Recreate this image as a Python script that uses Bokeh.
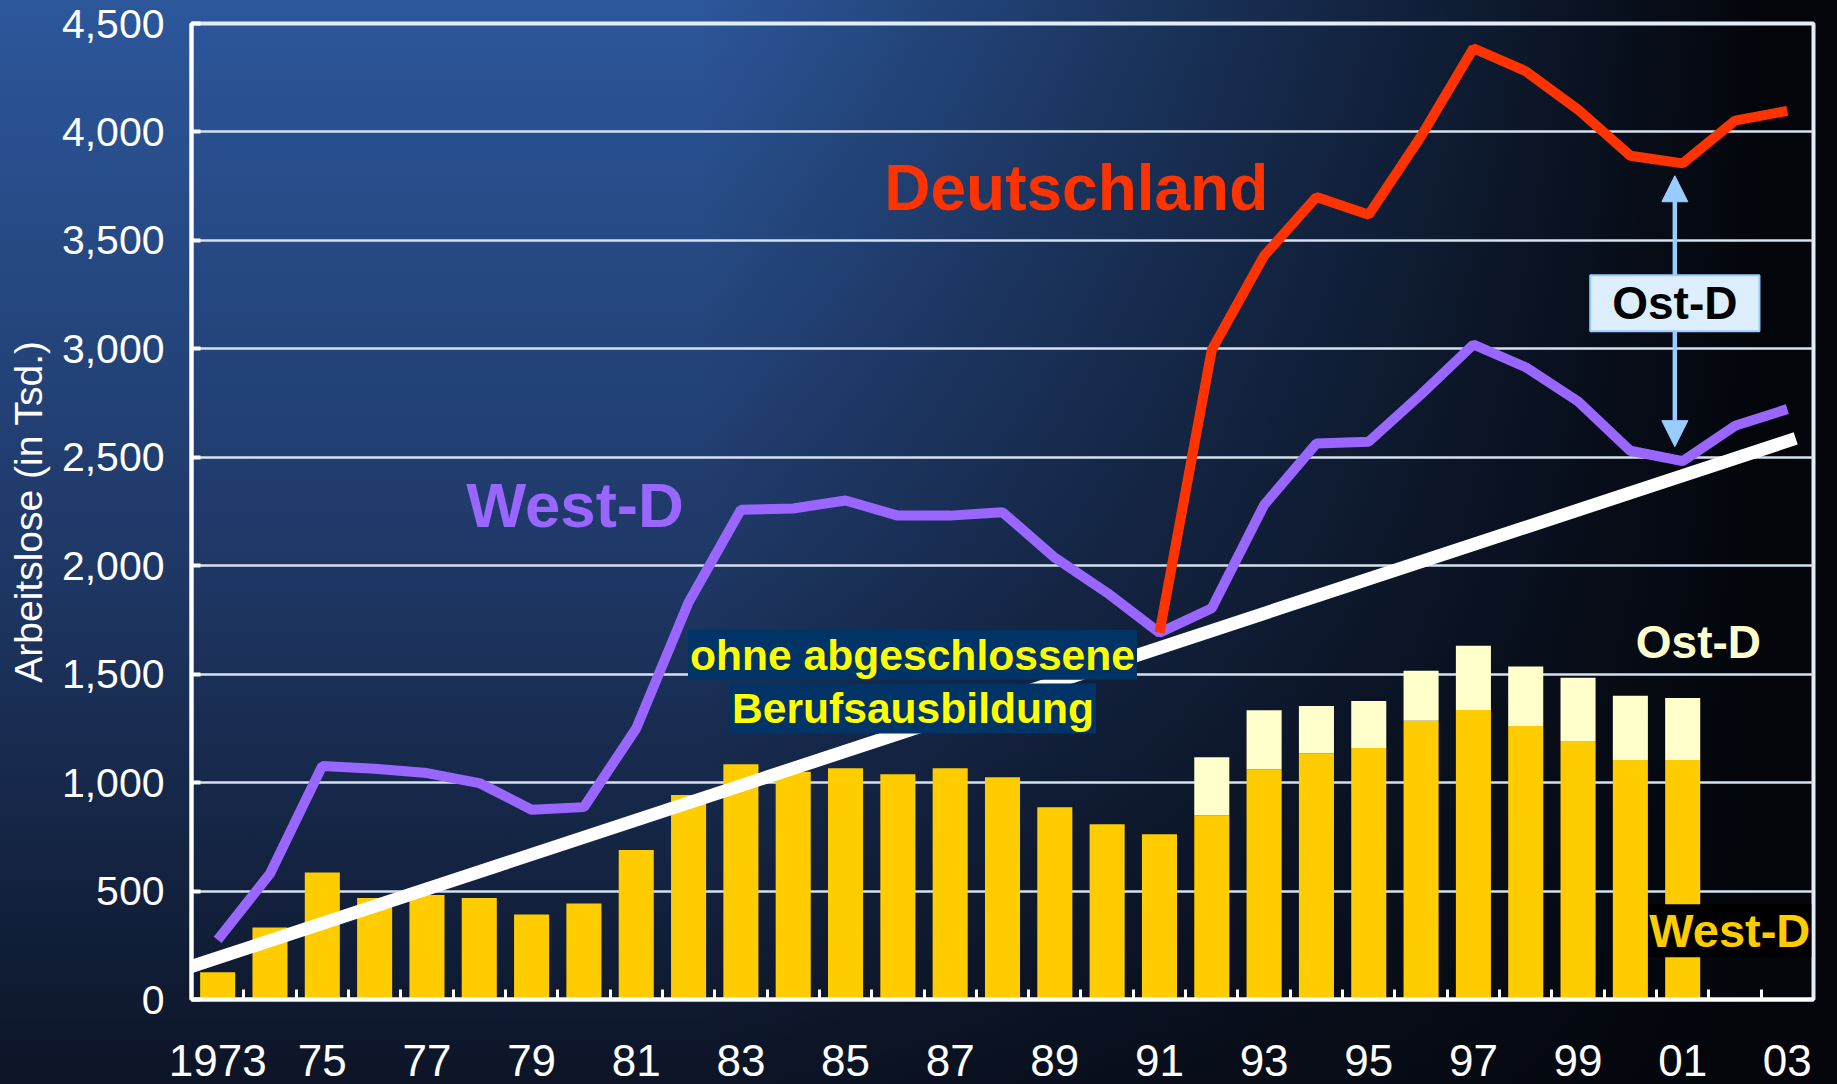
from bokeh.plotting import figure
from bokeh.models import (ColumnDataSource, Range1d, FixedTicker, NumeralTickFormatter,
                          Label, Arrow, NormalHead)
from bokeh.embed import file_html
from bokeh.resources import INLINE

# ---------------- data ----------------
years = list(range(1973, 2004))
bar_years = list(range(1973, 2002))
west_bars = [126, 332, 586, 468, 482, 468, 392, 443, 689, 943,
             1085, 1050, 1066, 1038, 1066, 1025, 886, 808, 762, 849,
             1062, 1135, 1160, 1285, 1335, 1261, 1192, 1104, 1104]
ost_bars = [0, 0, 0, 0, 0, 0, 0, 0, 0, 0,
            0, 0, 0, 0, 0, 0, 0, 0, 0, 268,
            272, 218, 216, 231, 296, 274, 291, 296, 286]
west_line = [275, 580, 1077, 1064, 1044, 998, 875, 887, 1250, 1831,
             2258, 2264, 2301, 2231, 2231, 2247, 2037, 1875, 1691, 1804,
             2280, 2564, 2572, 2790, 3020, 2915, 2758, 2530, 2482, 2645, 2722]
de_years = list(range(1991, 2004))
de_line = [1691, 2995, 3429, 3700, 3618, 3980, 4386, 4280, 4103, 3890, 3855, 4052, 4097]
trend_years = [1972.37, 2003.16]
trend_values = [142, 2587]
x_tick_years = [1973, 1975, 1977, 1979, 1981, 1983, 1985, 1987, 1989, 1991,
                1993, 1995, 1997, 1999, 2001, 2003]
x_tick_labels = ["1973", "75", "77", "79", "81", "83", "85", "87", "89", "91",
                 "93", "95", "97", "99", "01", "03"]
y_ticks = [0, 500, 1000, 1500, 2000, 2500, 3000, 3500, 4000, 4500]

FONT = "Liberation Sans"

p = figure(width=1837, height=1100,
           x_range=Range1d(1972.5, 2003.5), y_range=Range1d(0, 4500),
           output_backend="svg", toolbar_location=None,
           min_border_left=191, min_border_right=24,
           min_border_top=23, min_border_bottom=101)
p.border_fill_alpha = 0
p.background_fill_alpha = 0
p.outline_line_color = "#E4ECF6"
p.outline_line_width = 4

grad = ("linear-gradient(to right, rgba(3,5,10,0) 38%, rgba(3,5,10,1) 96%),"
        "linear-gradient(to bottom, #2C579B 0%, #1F3968 50%, #0C1426 100%)")
css = ("html{background-color:#0b1224;background-image:" + grad + ";"
       "height:100%;overflow:hidden;margin:0;padding:0;}"
       "body{background:transparent;overflow:hidden;margin:0;padding:0;}")
try:
    from bokeh.models import GlobalInlineStyleSheet
    p.stylesheets = [GlobalInlineStyleSheet(css=css)]
except Exception:
    p.styles = {"background-image": grad}

# y axis
yax = p.yaxis[0]
yax.ticker = FixedTicker(ticks=y_ticks)
yax.formatter = NumeralTickFormatter(format="0,0")
yax.major_label_text_font = FONT
yax.major_label_text_font_size = "41px"
yax.major_label_text_color = "white"
yax.major_tick_in = 9
yax.major_tick_out = 0
yax.major_tick_line_color = "white"
yax.major_tick_line_width = 4
yax.minor_tick_line_color = None
yax.axis_line_color = "white"
yax.axis_line_width = 4
yax.major_label_standoff = 27
yax.axis_label = "Arbeitslose (in Tsd.)"
yax.axis_label_text_font = FONT
yax.axis_label_text_font_style = "normal"
yax.axis_label_text_font_size = "39px"
yax.axis_label_text_color = "white"
yax.axis_label_standoff = 9

# x axis
xax = p.xaxis[0]
xax.ticker = FixedTicker(ticks=x_tick_years, minor_ticks=[y + 0.5 for y in years[:-1]])
xax.major_label_overrides = {y: l for y, l in zip(x_tick_years, x_tick_labels)}
xax.major_label_text_font = FONT
xax.major_label_text_font_size = "44px"
xax.major_label_text_color = "white"
xax.major_tick_line_color = None
xax.major_tick_in = 0
xax.major_tick_out = 0
xax.minor_tick_in = 10
xax.minor_tick_out = 0
xax.minor_tick_line_color = "white"
xax.minor_tick_line_width = 3
xax.axis_line_color = "white"
xax.axis_line_width = 4
xax.major_label_standoff = 45

p.xgrid.visible = False
p.ygrid.ticker = FixedTicker(ticks=y_ticks)
p.ygrid.grid_line_color = "#D5E1EE"
p.ygrid.grid_line_width = 2.5

# bars
src = ColumnDataSource(dict(year=bar_years, west=west_bars,
                            total=[w + o for w, o in zip(west_bars, ost_bars)]))
p.vbar(x="year", bottom=0, top="west", width=0.67, source=src,
       fill_color="#FFCC00", line_color=None)
p.vbar(x="year", bottom="west", top="total", width=0.67, source=src,
       fill_color="#FFFFCC", line_color=None)

# lines
p.line(trend_years, trend_values, line_color="white", line_width=13)
p.line(years, west_line, line_color="#9966FF", line_width=10)
p.line(de_years, de_line, line_color="#FF3300", line_width=10)

# arrow between Deutschland and West-D in 2001
ax = 2000.85
a_top = de_line[de_years.index(2001)] - 57
a_bot = west_line[years.index(2001)] + 67
head = dict(size=26, fill_color="#99CCFF", line_color="#99CCFF", line_width=1)
p.add_layout(Arrow(x_start=ax, y_start=a_bot, x_end=ax, y_end=a_top,
                   start=NormalHead(**head), end=NormalHead(**head),
                   line_color="#99CCFF", line_width=4.5))


def lab(x, y, text, color, size, bold=True, **kw):
    p.add_layout(Label(x=x, y=y, text=text, text_color=color, text_font=FONT,
                       text_font_size=f"{size}px",
                       text_font_style="bold" if bold else "normal",
                       text_align="center", text_baseline="middle", **kw))


lab(1986.28, 1589, "ohne abgeschlossene", "#FFFF00", 42.6,
    background_fill_color="#003366", padding=dict(left=2, right=2, top=1, bottom=1))
lab(1986.29, 1342, "Berufsausbildung", "#FFFF00", 42.6,
    background_fill_color="#003366", padding=dict(left=2, right=2, top=1, bottom=1))
lab(1989.41, 3740, "Deutschland", "#FF3300", 64)
lab(1979.83, 2280, "West-D", "#9966FF", 63.5)
lab(2000.85, 3210, "Ost-D", "black", 46,
    background_fill_color="#DDEEFF", border_line_color="#99CCFF", border_line_width=2,
    padding=dict(left=22, right=22, top=2, bottom=2))
lab(2001.30, 1650, "Ost-D", "#FFFFCC", 46)
lab(2001.90, 317, "West-D", "#FFCC00", 47,
    background_fill_color="black", padding=dict(left=1, right=1, top=0, bottom=0))

open("out.html", "w").write(file_html(p, INLINE))
